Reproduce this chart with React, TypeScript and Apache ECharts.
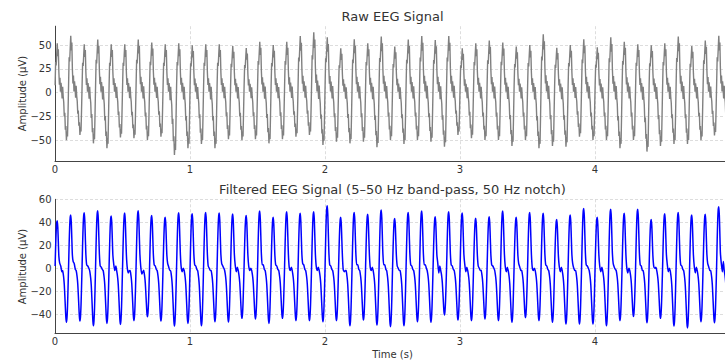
import React, { useEffect, useRef } from "react";
import * as echarts from "echarts";

// ---- Data ----
const PERIOD = 0.1; // s, spacing of the alpha peaks
const FIRST_PEAK = 0.0167; // s, time of first peak
const T_MAX = 4.996; // s, last sample

// Filtered signal: per-cycle peak, following trough, and plateau ("kink") levels
const filtPeak = [41.4, 46.3, 48.3, 50.0, 45.5, 48.0, 50.0, 46.0, 44.5, 48.3, 47.5, 48.6, 48.1, 47.2, 46.0, 49.8, 44.3, 49.2, 47.8, 49.2, 54.4, 44.3, 48.6, 46.9, 50.7, 43.4, 48.6, 49.8, 44.9, 49.2, 48.0, 43.5, 44.9, 49.8, 44.3, 48.6, 47.8, 42.5, 46.3, 52.1, 44.3, 51.3, 47.8, 51.3, 42.5, 47.5, 48.5, 46.3, 46.9, 53.6];
const filtTrough = [-47.0, -45.9, -49.9, -47.9, -48.8, -45.6, -42.1, -45.9, -50.2, -47.9, -49.9, -46.4, -46.7, -43.5, -44.1, -47.9, -43.5, -45.6, -45.6, -46.4, -45.6, -49.9, -45.0, -49.3, -50.8, -49.9, -46.4, -47.0, -40.6, -45.0, -45.6, -44.1, -45.6, -47.0, -43.0, -45.6, -47.0, -48.5, -48.5, -48.5, -49.9, -45.6, -42.0, -47.3, -43.5, -50.2, -51.8, -46.4, -47.3, -46.0];
const kinkA = [4.5, 5.8, 3, 2, 4, 1, 2, 3, 4, 1, 3, 2, 4, 3, 2, 3, 3, 1, 4, 2, 3, -1, 3, 1, 3, 2, 3, 3, 5, 3, 4, 2, 3, 2, 4, 1, 3, 2, 4, 3, 2, 4, 1, 3, 2, 4, 3, 2, 4, 5];
const kinkB = [2, 4, 2, 1, -2, -4, -5, 2, 1, -3, 2, 0, 2, -3, -2, 3, 2, -2, 3, -2, 2, -3, 3, -2, 3, 0, 2, 3, -4, 2, -3, 0, 2, -3, 1, -2, 2, -3, 0, 2, -3, 1, -4, 2, 0, -3, 2, -4, 1, -3];
const kinkC = [-3, -1, 0, -1, 2, -2, -3, -1, -2, 0, -1, -2, 0, 1, 0, -1, -1, 1, -1, 1, -1, -2, -1, 1, -1, -2, -1, 0, 2, -1, 1, -2, 0, 1, -2, 0, -1, 1, -2, 0, 1, -1, 0, -2, 1, 0, -1, 1, -2, 6];

// Raw signal: per-cycle peak and following trough
const rawPeak = [52, 60, 51, 56, 51, 51, 56, 52.7, 51, 52, 50, 51, 51, 49, 47, 53.7, 50.2, 53.7, 59.7, 63.6, 58.3, 46.7, 56.2, 52, 59, 48.5, 56, 59.7, 55.5, 59.7, 46.7, 52, 55, 52.7, 48.5, 50.2, 61.5, 47.4, 50.2, 56.2, 47.8, 58.3, 53.7, 51, 50, 52, 59, 49, 55, 60];
const rawTrough = [-50, -44.5, -53.3, -58.5, -47, -48, -49.8, -46.3, -65.6, -58.5, -54, -58.5, -49, -50, -49, -53.3, -49, -46.3, -44.5, -55, -51.5, -53.3, -51.5, -57.5, -49.8, -54, -49.8, -51.5, -56.8, -44.5, -48, -49.8, -49.8, -56, -49.8, -58.5, -56, -56.8, -46.3, -49.8, -49.8, -58.5, -49.8, -62, -56, -54, -54, -50, -45, -50];

// Cycle shapes: [time from peak (s), weight]
// weight >= 0 -> fraction of the peak, weight < 0 -> fraction of the trough
const filtRise = [[-0.032, -1], [-0.028, -0.92], [-0.024, -0.7], [-0.02, -0.35], [-0.016, 0.05], [-0.012, 0.45], [-0.008, 0.78], [-0.004, 0.96]];
const filtHead = [[0, 1], [0.004, 0.86], [0.008, 0.55], [0.012, 0.25]];
const filtKinkDt = [0.018, 0.026, 0.034];
const filtTail = [[0.04, -0.04], [0.044, -0.1], [0.048, -0.18], [0.052, -0.3], [0.056, -0.5], [0.06, -0.72], [0.064, -0.92]];

const rawRise = [[-0.032, -1], [-0.028, -0.82], [-0.024, -0.92], [-0.02, -0.4], [-0.016, 0.15], [-0.012, 0.62], [-0.008, 0.55], [-0.004, 0.78]];
const rawFall = [[0, 1], [0.004, 0.74], [0.008, 0.88], [0.012, 0.42], [0.016, 0.16], [0.02, 0.3], [0.024, 0.02], [0.028, 0.2], [0.032, 0.08], [0.036, -0.12], [0.04, 0.12], [0.044, -0.08], [0.048, -0.2], [0.052, -0.5], [0.056, -0.42], [0.06, -0.78], [0.064, -0.7]];

// Axis ticks
const xTicks = [0, 1, 2, 3, 4];
const rawYTicks = [-50, -25, 0, 25, 50];
const filtYTicks = [-40, -20, 0, 20, 40, 60];

const FONT = "DejaVu Sans";
const TEXT = "#333333";
const GRIDC = "#d4d4d4";

function wv(w: number, p: number, t: number) {
  return w >= 0 ? w * p : -w * t;
}

function buildFiltered(): number[][] {
  const out: number[][] = [];
  for (let k = 0; k < filtPeak.length; k++) {
    const tp = FIRST_PEAK + k * PERIOD;
    const P = filtPeak[k];
    const Tprev = k > 0 ? filtTrough[k - 1] : filtTrough[0];
    const T = filtTrough[k];
    filtRise.forEach(([dt, w]) => out.push([tp + dt, wv(w, P, Tprev)]));
    filtHead.forEach(([dt, w]) => out.push([tp + dt, wv(w, P, T)]));
    const kinks = [kinkA[k], kinkB[k], kinkC[k]];
    filtKinkDt.forEach((dt, i) => out.push([tp + dt, kinks[i]]));
    filtTail.forEach(([dt, w]) => out.push([tp + dt, wv(w, P, T)]));
  }
  return out
    .filter((d) => d[0] >= 0 && d[0] <= T_MAX)
    .map((d) => [Math.round(d[0] * 10000) / 10000, Math.round(d[1] * 100) / 100]);
}

function buildRaw(): number[][] {
  const out: number[][] = [];
  for (let k = 0; k < rawPeak.length; k++) {
    const tp = FIRST_PEAK + k * PERIOD;
    const P = rawPeak[k];
    const Tprev = k > 0 ? rawTrough[k - 1] : rawTrough[0];
    const T = rawTrough[k];
    rawRise.forEach(([dt, w]) => out.push([tp + dt, wv(w, P, Tprev)]));
    rawFall.forEach(([dt, w]) => out.push([tp + dt, wv(w, P, T)]));
  }
  return out
    .filter((d) => d[0] >= 0 && d[0] <= T_MAX)
    .map((d) => [Math.round(d[0] * 10000) / 10000, Math.round(d[1] * 100) / 100]);
}

const minus = (v: number) => String(v).replace("-", "\u2212");

function yAxisCfg(gridIndex: number, min: number, max: number, ticks: number[], showMax: boolean) {
  const step = ticks[1] - ticks[0];
  return {
    type: "value",
    gridIndex,
    min,
    max,
    minInterval: step,
    maxInterval: step,
    axisLine: { show: true, lineStyle: { color: "#444444", width: 1 } },
    axisTick: { show: false },
    axisLabel: {
      showMinLabel: false,
      showMaxLabel: showMax,
      margin: 3.5,
      fontSize: 10,
      fontFamily: FONT,
      color: TEXT,
      formatter: (v: number) => (ticks.indexOf(Math.round(v)) >= 0 && Math.abs(v - Math.round(v)) < 1e-6 ? minus(Math.round(v)) : ""),
    },
    splitLine: {
      show: true,
      showMinLine: false,
      showMaxLine: showMax,
      lineStyle: { color: GRIDC, width: 0.8, type: [3, 2] },
    },
  };
}

function xAxisCfg(gridIndex: number) {
  return {
    type: "value",
    gridIndex,
    min: xTicks[0],
    max: T_MAX,
    interval: xTicks[1] - xTicks[0],
    axisLine: { show: true, onZero: false, lineStyle: { color: "#444444", width: 1 } },
    axisTick: { show: false },
    axisLabel: {
      showMaxLabel: false,
      margin: 3,
      fontSize: 10,
      fontFamily: FONT,
      color: TEXT,
      formatter: (v: number) => (xTicks.indexOf(v) >= 0 ? String(v) : ""),
    },
    splitLine: {
      show: true,
      showMinLine: false,
      showMaxLine: false,
      lineStyle: { color: GRIDC, width: 0.8, type: [3, 2] },
    },
  };
}

export default function App() {
  const ref = useRef<HTMLDivElement>(null);
  useEffect(() => {
    if (!ref.current) return;
    const chart = echarts.init(ref.current, undefined, { renderer: "svg" });
    const raw = buildRaw();
    const filt = buildFiltered();
    const textStyle = (s: string, x: number, y: number, size: number, rot = 0) => ({
      type: "text",
      x,
      y,
      rotation: rot,
      silent: true,
      style: {
        text: s,
        x: 0,
        y: 0,
        align: "center",
        verticalAlign: "middle",
        fontSize: size,
        fontFamily: FONT,
        fill: TEXT,
      },
    });
    chart.setOption({
      animation: false,
      backgroundColor: "#ffffff",
      grid: [
        { left: 55, top: 26.2, width: 674.5, height: 134.9, containLabel: false, outerBoundsMode: "none" },
        { left: 55, top: 199.3, width: 674.5, height: 134.0, containLabel: false, outerBoundsMode: "none" },
      ],
      xAxis: [xAxisCfg(0), xAxisCfg(1)],
      yAxis: [
        yAxisCfg(0, -72, 70, rawYTicks, false),
        yAxisCfg(1, -56.5, 60, filtYTicks, true),
      ],
      series: [
        {
          type: "line",
          xAxisIndex: 0,
          yAxisIndex: 0,
          data: raw,
          showSymbol: false,
          lineStyle: { color: "#808080", width: 1.4 },
          silent: true,
        },
        {
          type: "line",
          xAxisIndex: 1,
          yAxisIndex: 1,
          data: filt,
          showSymbol: false,
          smooth: 0.2,
          lineStyle: { color: "#0000ff", width: 1.5 },
          silent: true,
        },
      ],
      graphic: [
        textStyle("Raw EEG Signal", 392.5, 16.5, 13),
        textStyle("Filtered EEG Signal (5\u201350 Hz band-pass, 50 Hz notch)", 392.5, 189.5, 13),
        textStyle("Time (s)", 392.5, 354.5, 10),
        textStyle("Amplitude (\u00b5V)", 22, 93.5, 10, Math.PI / 2),
        textStyle("Amplitude (\u00b5V)", 22, 266.5, 10, Math.PI / 2),
      ],
    });
    return () => chart.dispose();
  }, []);
  return (
    <div
      ref={ref}
      style={{ position: "absolute", left: 0, top: 0, width: 725, height: 360, background: "#fff" }}
    />
  );
}
